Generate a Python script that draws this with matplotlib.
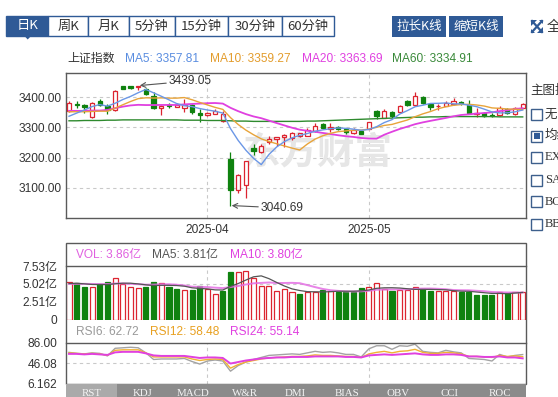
import matplotlib
matplotlib.use('Agg')
import matplotlib.pyplot as plt
from matplotlib.patches import Rectangle, Polygon
import numpy as np

plt.rcParams['font.family'] = ['Liberation Sans', 'Noto Sans CJK SC', 'DejaVu Sans']

# ---------------- data ----------------
month_labels = ['2025-04', '2025-05']
month_index = [18, 39]

opens = [3354.8, 3378.0, 3375.7, 3335.0, 3389.0, 3372.0, 3358.0, 3436.0, 3436.0, 3434.0,
         3427.6, 3404.4, 3365.8, 3374.6, 3369.0, 3363.6, 3373.5, 3347.0, 3341.6, 3344.9,
         3321.7, 3196.0, 3093.5, 3110.0, 3231.3, 3217.0, 3251.0, 3260.0, 3266.6, 3264.4,
         3269.9, 3272.0, 3288.6, 3310.7, 3295.3, 3303.0, 3294.0, 3283.1, 3288.6, 3295.3,
         3354.8, 3332.7, 3351.5, 3352.6, 3387.9, 3374.6, 3402.2, 3376.8, 3370.2, 3372.4,
         3379.0, 3385.7, 3374.6, 3346.0, 3349.3, 3341.6, 3341.6, 3360.3, 3343.8, 3365.8]
closes = [3382.4, 3373.5, 3367.0, 3381.0, 3374.6, 3359.0, 3422.0, 3429.0, 3431.0, 3437.5,
          3410.0, 3365.8, 3372.4, 3372.4, 3374.6, 3374.6, 3350.4, 3340.5, 3349.3, 3354.8,
          3343.8, 3093.5, 3143.0, 3187.2, 3220.3, 3240.0, 3261.0, 3266.6, 3275.4, 3283.1,
          3281.0, 3292.0, 3305.2, 3297.5, 3301.9, 3294.2, 3286.4, 3290.8, 3278.7, 3317.3,
          3339.4, 3354.8, 3339.4, 3371.3, 3374.6, 3403.3, 3380.2, 3369.1, 3372.4, 3381.3,
          3387.9, 3380.2, 3347.0, 3349.3, 3339.4, 3339.4, 3363.6, 3347.0, 3365.8, 3376.2]
highs = [3387.9, 3388.0, 3378.0, 3383.5, 3393.4, 3378.0, 3424.0, 3437.5, 3437.0, 3439.05,
         3430.0, 3416.5, 3374.6, 3380.0, 3382.4, 3394.5, 3376.8, 3360.3, 3352.6, 3361.4,
         3354.8, 3217.0, 3146.4, 3189.4, 3244.5, 3244.5, 3272.0, 3268.8, 3277.6, 3286.4,
         3283.0, 3297.5, 3314.0, 3314.0, 3316.2, 3305.2, 3299.7, 3297.5, 3289.7, 3319.5,
         3358.1, 3360.3, 3354.8, 3374.6, 3391.2, 3416.5, 3405.5, 3379.0, 3379.0, 3387.9,
         3396.7, 3387.9, 3390.0, 3365.8, 3350.4, 3348.2, 3372.4, 3363.6, 3369.1, 3382.4]
lows = [3352.6, 3366.0, 3347.0, 3332.7, 3371.3, 3345.0, 3356.0, 3426.5, 3427.0, 3424.0,
        3407.7, 3360.3, 3341.6, 3363.6, 3367.0, 3351.5, 3346.0, 3319.5, 3339.4, 3343.8,
        3319.5, 3040.69, 3082.4, 3066.0, 3207.0, 3213.7, 3244.5, 3236.8, 3234.6, 3258.9,
        3266.6, 3269.9, 3286.4, 3294.2, 3285.3, 3290.0, 3278.7, 3279.8, 3277.6, 3293.1,
        3327.2, 3330.5, 3332.7, 3350.4, 3371.3, 3371.3, 3376.8, 3358.1, 3357.0, 3370.2,
        3374.6, 3374.6, 3343.8, 3336.0, 3336.0, 3335.0, 3339.4, 3343.8, 3341.6, 3363.6]

ma5 = [3337.0, 3347.6, 3357.8, 3369.2, 3375.8, 3370.6, 3380.2, 3392.6, 3402.8, 3415.2,
       3426.0, 3414.8, 3403.4, 3391.6, 3379.2, 3372.2, 3369.0, 3362.6, 3357.8, 3353.8,
       3347.6, 3296.2, 3256.8, 3224.4, 3197.4, 3176.6, 3210.2, 3235.0, 3252.8, 3265.4,
       3273.6, 3279.8, 3287.4, 3291.8, 3295.6, 3298.2, 3297.0, 3294.2, 3290.4, 3293.4,
       3302.4, 3316.2, 3325.8, 3344.2, 3355.8, 3368.6, 3373.6, 3379.6, 3380.0, 3381.2,
       3378.2, 3378.2, 3373.8, 3369.0, 3360.6, 3351.4, 3348.2, 3348.4, 3351.8, 3357.8]
ma10 = [3352.0, 3352.0, 3352.0, 3353.0, 3354.0, 3353.8, 3363.9, 3375.2, 3386.0, 3395.5,
        3398.3, 3397.5, 3398.0, 3397.2, 3397.2, 3399.1, 3391.9, 3383.0, 3374.7, 3366.5,
        3359.9, 3332.6, 3309.7, 3291.1, 3275.6, 3262.1, 3253.2, 3245.9, 3238.6, 3231.4,
        3225.1, 3245.0, 3261.2, 3272.3, 3280.5, 3285.9, 3288.4, 3290.8, 3291.1, 3294.5,
        3300.3, 3306.6, 3310.0, 3317.3, 3324.6, 3335.5, 3344.9, 3352.7, 3362.1, 3368.5,
        3373.4, 3375.9, 3376.7, 3374.5, 3370.9, 3364.8, 3363.2, 3361.1, 3360.4, 3359.3]
ma20 = [3355.0, 3355.0, 3355.0, 3356.0, 3356.0, 3358.0, 3364.0, 3369.0, 3373.0, 3375.0,
        3374.2, 3374.3, 3374.5, 3374.6, 3374.6, 3376.5, 3377.9, 3379.1, 3380.4, 3381.0,
        3379.1, 3365.1, 3353.9, 3344.2, 3336.4, 3330.6, 3322.6, 3314.5, 3306.7, 3299.0,
        3292.5, 3288.8, 3285.5, 3281.7, 3278.0, 3274.0, 3270.8, 3268.4, 3264.9, 3263.0,
        3262.7, 3275.8, 3285.6, 3294.8, 3302.6, 3310.7, 3316.7, 3321.8, 3326.6, 3331.5,
        3336.9, 3341.3, 3343.4, 3345.9, 3347.8, 3350.2, 3354.1, 3356.9, 3361.3, 3363.7]
ma60 = [3322, 3322, 3323, 3323, 3323, 3324, 3324, 3325, 3325, 3325,
        3325, 3325, 3325, 3325, 3325, 3324, 3324, 3324, 3323, 3323,
        3323, 3322, 3321, 3321, 3320, 3320, 3320, 3320, 3320, 3320,
        3320, 3321, 3321, 3322, 3323, 3324, 3325, 3326, 3327, 3328,
        3329, 3330, 3331, 3332, 3333, 3334, 3334, 3335, 3335, 3336,
        3336, 3336, 3336, 3336, 3336, 3336, 3335, 3335, 3335, 3334.9]

volume = [5.32, 5.18, 4.58, 4.58, 4.96, 5.24, 5.80, 4.96, 4.58, 4.48,
          4.58, 5.28, 5.14, 4.58, 4.30, 4.15, 4.15, 4.67, 4.30, 3.59,
          4.06, 6.69, 6.64, 6.78, 5.89, 4.72, 4.72, 4.01, 4.25, 3.83,
          3.59, 3.92, 3.92, 4.15, 4.01, 3.92, 3.92, 3.92, 4.39, 4.62,
          5.10, 4.25, 4.01, 4.15, 4.15, 4.62, 4.25, 4.01, 4.01, 4.01,
          4.01, 3.92, 3.92, 3.50, 3.50, 3.50, 3.92, 3.75, 3.92, 3.86]
volume_up = [1, 0, 0, 1, 0, 0, 1, 1, 1, 1, 0, 0, 1, 0, 0, 1, 0, 0, 1, 1,
             0, 0, 1, 1, 1, 1, 1, 1, 1, 1, 0, 1, 1, 0, 1, 0, 0, 0, 0, 1,
             1, 1, 0, 1, 1, 1, 0, 0, 1, 1, 1, 0, 0, 0, 0, 0, 1, 0, 1, 1]
vol_ma5 = [5.06, 5.10, 5.02, 4.93, 4.92, 4.91, 5.03, 5.11, 5.11, 5.01,
           4.88, 4.78, 4.81, 4.81, 4.78, 4.69, 4.46, 4.37, 4.31, 4.17,
           4.15, 4.66, 5.06, 5.55, 6.01, 6.14, 5.75, 5.22, 4.72, 4.31,
           4.08, 3.92, 3.90, 3.88, 3.92, 3.98, 3.98, 3.98, 4.03, 4.15,
           4.39, 4.46, 4.47, 4.43, 4.33, 4.24, 4.24, 4.24, 4.21, 4.18,
           4.06, 3.99, 3.97, 3.87, 3.77, 3.67, 3.67, 3.63, 3.72, 3.81]
vol_ma10 = [5.00, 5.02, 5.02, 5.00, 4.98, 4.99, 5.07, 5.07, 5.02, 4.97,
            4.90, 4.91, 4.96, 4.96, 4.90, 4.79, 4.62, 4.59, 4.56, 4.48,
            4.42, 4.56, 4.72, 4.93, 5.09, 5.15, 5.21, 5.14, 5.14, 5.16,
            5.11, 4.84, 4.56, 4.30, 4.12, 4.03, 3.95, 3.94, 3.96, 4.04,
            4.19, 4.22, 4.23, 4.23, 4.24, 4.32, 4.35, 4.36, 4.32, 4.26,
            4.15, 4.12, 4.11, 4.04, 3.98, 3.87, 3.83, 3.80, 3.80, 3.80]

rsi6 = [67, 65, 64, 66, 65, 60, 75, 76, 77, 76, 66, 53, 54, 54, 54, 55, 49, 44, 50, 52,
        50, 30, 41, 48, 53, 57, 61, 62, 63, 64, 63, 66, 69, 67, 68, 66, 63, 63, 58, 74,
        80, 80, 73, 80, 79, 83, 69, 67, 66, 71, 68, 66, 55, 54, 53, 50, 63, 58, 61, 62.72]
rsi12 = [66, 65, 64, 65, 64, 61, 71, 72, 72, 72, 66, 58, 58, 58, 58, 58, 54, 51, 53, 54,
         53, 36, 43, 48, 51, 54, 56, 57, 58, 59, 59, 60, 62, 61, 61, 60, 59, 59, 57, 64,
         67, 69, 66, 69, 70, 73, 67, 65, 65, 67, 66, 64, 59, 59, 58, 57, 61, 59, 60, 58.48]
rsi24 = [64, 64, 63, 64, 63, 62, 67, 68, 68, 68, 65, 61, 60, 60, 60, 60, 58, 56, 57, 57,
         56, 45, 48, 51, 53, 55, 56, 57, 57, 58, 58, 58, 59, 59, 59, 59, 58, 58, 57, 61,
         62, 63, 62, 63, 64, 65, 63, 62, 62, 63, 63, 62, 59, 59, 58, 58, 59, 57, 57, 55.14]

period_tabs = ['日K', '周K', '月K', '5分钟', '15分钟', '30分钟', '60分钟']
indicator_tabs = ['RST', 'KDJ', 'MACD', 'W&R', 'DMI', 'BIAS', 'OBV', 'CCI', 'ROC']
overlay_options = ['无', '均线', 'EXPMA', 'SAR', 'BOLL', 'BBI']

# ---------------- styling ----------------
W, H = 558, 397
RED = '#dc2430'
GREEN = '#0f820f'
BLUE = '#2f5a96'
GRID = '#c9c9c9'
FRAME = '#5a5a5a'
TXT = '#333333'
C_MA5 = '#6b97e6'
C_MA10 = '#e8a43a'
C_MA20 = '#e040e0'
C_MA60 = '#2e8a2e'
FS = 8.6

fig = plt.figure(figsize=(W / 100, H / 100), dpi=100)
fig.patch.set_facecolor('white')


def px_axes(x0, y0, x1, y1, **kw):
    return fig.add_axes([x0 / W, 1 - y1 / H, (x1 - x0) / W, (y1 - y0) / H], **kw)


n = len(closes)
xs = np.arange(n)
PX = 7.69
X0 = 69.0
LEFT, RIGHT = 65.7, 525.7
xlim = ((LEFT - X0) / PX, (RIGHT - X0) / PX)

# ---------------- main candle chart ----------------
ax = px_axes(LEFT, 73, RIGHT, 218)
ax.set_xlim(*xlim)
ax.set_ylim(2999.4, 3480.6)
for s in ax.spines.values():
    s.set_color(FRAME)
    s.set_linewidth(1.0)
ax.set_yticks([3100, 3200, 3300, 3400])
ax.set_yticklabels(['%.2f' % v for v in [3100, 3200, 3300, 3400]])
ax.set_xticks(month_index)
ax.set_xticklabels(month_labels)
ax.tick_params(length=0, labelsize=FS, colors=TXT)
ax.tick_params(axis='y', pad=3)
ax.tick_params(axis='x', pad=4.5)
for v in [3100, 3200, 3300, 3400]:
    ax.axhline(v, color=GRID, lw=0.8, ls=(0, (3, 3)), zorder=1)
for m in month_index:
    ax.axvline(m, color=GRID, lw=0.8, ls=(0, (3, 3)), zorder=1)

# watermark
ax.text((318 - X0) / PX, 3400 - (153 - 97.3) / 0.3013, '东方财富', fontsize=27,
        fontweight='bold', color='#e6e6e6', ha='center', va='center',
        family=['Noto Sans CJK SC'], zorder=1)

for i in range(n):
    o, c, h, l = opens[i], closes[i], highs[i], lows[i]
    up = c >= o
    col = RED if up else GREEN
    ax.vlines(i, l, h, color=col, lw=0.9, zorder=3)
    b = min(o, c)
    hh = max(abs(c - o), 2.5)
    ax.add_patch(Rectangle((i - 0.28, b), 0.56, hh, facecolor='white' if up else col,
                           edgecolor=col, lw=0.9, zorder=4))

ax.plot(xs, ma60, color=C_MA60, lw=1.0, zorder=5)
ax.plot(xs, ma20, color=C_MA20, lw=1.3, zorder=5)
ax.plot(xs, ma10, color=C_MA10, lw=1.0, zorder=5)
ax.plot(xs, ma5, color=C_MA5, lw=1.0, zorder=5)

imax = int(np.argmax(highs))
imin = int(np.argmin(lows))
ax.annotate('%.2f' % highs[imax], xy=(imax + 0.2, highs[imax]),
            xytext=((169 - X0) / PX, 3400 + (97.3 - 81) / 0.3013),
            fontsize=FS, color=TXT, ha='left', va='center', zorder=6,
            arrowprops=dict(arrowstyle='->', color='#555555', lw=0.8, shrinkA=0, shrinkB=0))
ax.annotate('%.2f' % lows[imin], xy=(imin + 0.15, lows[imin]),
            xytext=((261 - X0) / PX, 3400 - (208 - 97.3) / 0.3013),
            fontsize=FS, color=TXT, ha='left', va='center', zorder=6,
            arrowprops=dict(arrowstyle='->', color='#555555', lw=0.8, shrinkA=0, shrinkB=0))

# ---------------- volume ----------------
axv = px_axes(LEFT, 266, RIGHT, 320)
axv.set_xlim(*xlim)
axv.set_ylim(-0.07, 7.53)
for s in axv.spines.values():
    s.set_visible(False)
vt = [0, 2.51, 5.02, 7.53]
axv.set_yticks(vt)
axv.set_yticklabels(['0'] + ['%.2f亿' % v for v in vt[1:]])
axv.set_xticks([])
axv.tick_params(length=0, labelsize=FS, colors=TXT, pad=6)
axv.axhline(5.02, color=GRID, lw=0.8, ls=(0, (3, 3)), zorder=1)
for m in month_index:
    axv.axvline(m, color=GRID, lw=0.8, ls=(0, (3, 3)), zorder=1)
for i in range(n):
    col = RED if volume_up[i] else GREEN
    axv.add_patch(Rectangle((i - 0.33, 0), 0.66, volume[i],
                            facecolor='white' if volume_up[i] else col,
                            edgecolor=col, lw=0.9, zorder=3))
axv.plot(xs, vol_ma10, color='#e46ee4', lw=1.4, alpha=0.85, zorder=4)
axv.plot(xs, vol_ma5, color='#555555', lw=0.9, zorder=5)

# ---------------- RSI ----------------
axr = px_axes(LEFT, 342.7, RIGHT, 384)
axr.set_xlim(*xlim)
axr.set_ylim(6.162 - 0.7 / 0.5085, 86.0)
for s in axr.spines.values():
    s.set_visible(False)
rt = [6.162, 46.08, 86.0]
axr.set_yticks(rt)
axr.set_yticklabels(['6.162', '46.08', '86.00'])
axr.set_xticks([])
axr.tick_params(length=0, labelsize=FS, colors=TXT, pad=6)
axr.axhline(46.08, color=GRID, lw=0.8, ls=(0, (3, 3)), zorder=1)
for m in month_index:
    axr.axvline(m, color=GRID, lw=0.8, ls=(0, (3, 3)), zorder=1)
axr.plot(xs, rsi6, color='#a3a3a3', lw=1.0, zorder=3)
axr.plot(xs, rsi12, color='#f0b232', lw=1.0, zorder=4)
axr.plot(xs, rsi24, color='#e040e0', lw=1.4, zorder=5)

# ---------------- overlay (frames, tabs, legends) ----------------
ov = fig.add_axes([0, 0, 1, 1], zorder=10)
ov.set_xlim(0, W)
ov.set_ylim(H, 0)
ov.axis('off')

# lower panel frame
ov.add_patch(Rectangle((LEFT, 242.7), RIGHT - LEFT, 384 - 242.7, fill=False,
                       edgecolor=FRAME, lw=1.0))
ov.plot([LEFT, RIGHT], [266, 266], color=FRAME, lw=1.0)
ov.plot([LEFT, RIGHT], [343.3, 343.3], color=FRAME, lw=1.0)

# bottom indicator tabs
tw = (RIGHT - LEFT) / len(indicator_tabs)
ov.add_patch(Rectangle((LEFT, 384), RIGHT - LEFT, 20, facecolor='#8b8b8b', edgecolor='none'))
ov.add_patch(Rectangle((LEFT, 384), tw, 20, facecolor='#aaaaaa', edgecolor='none'))
for k, name in enumerate(indicator_tabs):
    ov.text(LEFT + tw * (k + 0.5), 389.3, name, ha='center', va='top', fontsize=7.8,
            color='#f4f4f4', family=['Liberation Serif'])

# top period tabs
edges = [6, 48.3, 88.3, 129, 175, 228.3, 281.7, 334.3]
for k, name in enumerate(period_tabs):
    x0, x1 = edges[k], edges[k + 1]
    ov.add_patch(Rectangle((x0, 15.7), x1 - x0, 20.3, facecolor=BLUE if k == 0 else 'white',
                           edgecolor=BLUE, lw=1.0))
    ov.text((x0 + x1) / 2, 26, name, ha='center', va='center', fontsize=9.5,
            color='white' if k == 0 else TXT, family=['Noto Sans CJK SC'])
ov.add_patch(Polygon([[24.5, 36], [31, 36], [27.7, 39.5]], closed=True, facecolor=BLUE,
                     edgecolor='none'))

# zoom buttons
for (x0, x1), lab in zip([(392.3, 446.0), (449.3, 502.7)], ['拉长K线', '缩短K线']):
    ov.add_patch(Rectangle((x0, 16), x1 - x0, 21, facecolor=BLUE, edgecolor='none'))
    ov.text((x0 + x1) / 2, 26.5, lab, ha='center', va='center', fontsize=9,
            color='white', family=['Noto Sans CJK SC'])

# fullscreen icon + text
ic = dict(facecolor=BLUE, edgecolor='none')
ov.add_patch(Polygon([[531, 20], [537, 20], [531, 26]], closed=True, **ic))
ov.add_patch(Polygon([[543, 33], [537, 33], [543, 27]], closed=True, **ic))
ov.add_patch(Polygon([[543, 20], [539, 20], [543, 24]], closed=True, **ic))
ov.add_patch(Polygon([[531, 33], [535, 33], [531, 29]], closed=True, **ic))
ov.plot([532, 542], [21, 32], color=BLUE, lw=1.6)
ov.plot([542, 532], [21, 32], color=BLUE, lw=1.6)
ov.text(547, 26.5, '全屏', ha='left', va='center', fontsize=10, color=TXT,
        family=['Noto Sans CJK SC'])

# main legend row
ov.text(67, 59, '上证指数', ha='left', va='center', fontsize=FS, color=TXT)
ov.text(125, 59, 'MA5: %.2f' % 3357.81, ha='left', va='center', fontsize=FS, color='#5a8de0')
ov.text(210, 59, 'MA10: %.2f' % 3359.27, ha='left', va='center', fontsize=FS, color='#e39c2c')
ov.text(302, 59, 'MA20: %.2f' % 3363.69, ha='left', va='center', fontsize=FS, color='#e040e0')
ov.text(392, 59, 'MA60: %.2f' % 3334.91, ha='left', va='center', fontsize=FS, color='#3a8a3a')

# volume legend
ov.text(76, 255, 'VOL: %.2f亿' % volume[-1], ha='left', va='center', fontsize=FS, color='#e060e0')
ov.text(152, 255, 'MA5: 3.81亿', ha='left', va='center', fontsize=FS, color='#555555')
ov.text(230, 255, 'MA10: 3.80亿', ha='left', va='center', fontsize=FS, color='#e040e0')

# rsi legend
ov.text(76, 332, 'RSI6: %.2f' % rsi6[-1], ha='left', va='center', fontsize=FS, color='#999999')
ov.text(150, 332, 'RSI12: %.2f' % rsi12[-1], ha='left', va='center', fontsize=FS, color='#e8a020')
ov.text(230, 332, 'RSI24: %.2f' % rsi24[-1], ha='left', va='center', fontsize=FS, color='#e040e0')

# right option panel (cut off by the right edge, as in the reference)
ov.text(530, 90, '主图指标', ha='left', va='center', fontsize=9, color=TXT,
        family=['Noto Sans CJK SC'])
ys = [114.3, 136, 157.3, 180, 201.7, 224]
for k, (yy, lab) in enumerate(zip(ys, overlay_options)):
    ov.add_patch(Rectangle((531, yy - 5.5), 11, 11, facecolor='white', edgecolor='#3d5f8c', lw=1.0))
    if k == 1:
        ov.add_patch(Rectangle((533.5, yy - 3), 6, 6, facecolor=BLUE, edgecolor='none'))
    ov.text(545, yy, lab, ha='left', va='center', fontsize=9, color=TXT,
            family=['Liberation Serif', 'Noto Sans CJK SC'])

fig.savefig('out.png', dpi=100, facecolor='white')
